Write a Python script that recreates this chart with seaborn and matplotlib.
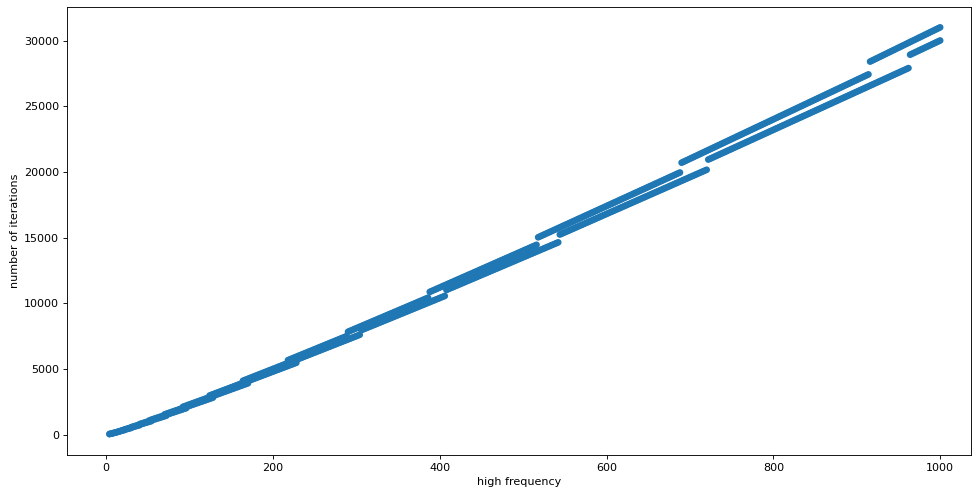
import numpy as np
import pandas as pd
import matplotlib
matplotlib.use("Agg")
import matplotlib.pyplot as plt
import seaborn as sns

# high-frequency values sampled along the axis (every 2 units)
freq = np.arange(4, 1001, 2)

# upper branch (number of iterations)
iters_upper = [
    48, 78, 112, 150, 180, 224, 256, 306, 340, 396, 432, 468, 504,
    570, 608, 646, 684, 722,
    800, 840, 880, 920, 960, 1000,
    1092, 1134, 1176, 1218, 1260, 1302, 1344, 1386, 1428,
    1540, 1584, 1628, 1672, 1716, 1760, 1804, 1848, 1892, 1936, 1980,
    2116, 2162, 2208, 2254, 2300, 2346, 2392, 2438, 2484, 2530, 2576, 2622, 2668, 2714, 2760, 2806,
    2976, 3024, 3072, 3120, 3168, 3216, 3264, 3312, 3360, 3408, 3456, 3504, 3552, 3600, 3648, 3696, 3744, 3792, 3840, 3888,
    4100, 4150, 4200, 4250, 4300, 4350, 4400, 4450, 4500, 4550, 4600, 4650, 4700, 4750, 4800, 4850, 4900, 4950, 5000,
    5050, 5100, 5150, 5200, 5250, 5300, 5350, 5400,
    5668, 5720, 5772, 5824, 5876, 5928, 5980, 6032, 6084, 6136, 6188, 6240, 6292, 6344, 6396, 6448, 6500, 6552,
    6604, 6656, 6708, 6760, 6812, 6864, 6916, 6968, 7020, 7072, 7124, 7176, 7228, 7280, 7332, 7384, 7436, 7488,
    7830, 7884, 7938, 7992, 8046, 8100, 8154, 8208, 8262, 8316, 8370, 8424, 8478, 8532, 8586, 8640, 8694, 8748,
    8802, 8856, 8910, 8964, 9018, 9072, 9126, 9180, 9234, 9288, 9342, 9396, 9450, 9504, 9558, 9612, 9666, 9720,
    9774, 9828, 9882, 9936, 9990, 10044, 10098, 10152, 10206, 10260, 10314, 10368, 10422,
    10864, 10920, 10976, 11032, 11088, 11144, 11200, 11256, 11312, 11368, 11424, 11480, 11536, 11592, 11648,
    11704, 11760, 11816, 11872, 11928, 11984, 12040, 12096, 12152, 12208, 12264, 12320, 12376, 12432, 12488,
    12544, 12600, 12656, 12712, 12768, 12824, 12880, 12936, 12992, 13048, 13104, 13160, 13216, 13272, 13328,
    13384, 13440, 13496, 13552, 13608, 13664, 13720, 13776, 13832, 13888, 13944, 14000, 14056, 14112, 14168,
    14224, 14280, 14336, 14392, 14448,
    15022, 15080, 15138, 15196, 15254, 15312, 15370, 15428, 15486, 15544,
    15602, 15660, 15718, 15776, 15834, 15892, 15950, 16008, 16066, 16124,
    16182, 16240, 16298, 16356, 16414, 16472, 16530, 16588, 16646, 16704,
    16762, 16820, 16878, 16936, 16994, 17052, 17110, 17168, 17226, 17284,
    17342, 17400, 17458, 17516, 17574, 17632, 17690, 17748, 17806, 17864,
    17922, 17980, 18038, 18096, 18154, 18212, 18270, 18328, 18386, 18444,
    18502, 18560, 18618, 18676, 18734, 18792, 18850, 18908, 18966, 19024,
    19082, 19140, 19198, 19256, 19314, 19372, 19430, 19488, 19546, 19604,
    19662, 19720, 19778, 19836, 19894, 19952,
    20700, 20760, 20820, 20880, 20940, 21000, 21060, 21120, 21180, 21240,
    21300, 21360, 21420, 21480, 21540, 21600, 21660, 21720, 21780, 21840,
    21900, 21960, 22020, 22080, 22140, 22200, 22260, 22320, 22380, 22440,
    22500, 22560, 22620, 22680, 22740, 22800, 22860, 22920, 22980, 23040,
    23100, 23160, 23220, 23280, 23340, 23400, 23460, 23520, 23580, 23640,
    23700, 23760, 23820, 23880, 23940, 24000, 24060, 24120, 24180, 24240,
    24300, 24360, 24420, 24480, 24540, 24600, 24660, 24720, 24780, 24840,
    24900, 24960, 25020, 25080, 25140, 25200, 25260, 25320, 25380, 25440,
    25500, 25560, 25620, 25680, 25740, 25800, 25860, 25920, 25980, 26040,
    26100, 26160, 26220, 26280, 26340, 26400, 26460, 26520, 26580, 26640,
    26700, 26760, 26820, 26880, 26940, 27000, 27060, 27120, 27180, 27240,
    27300, 27360, 27420,
    28396, 28458, 28520, 28582, 28644, 28706, 28768, 28830, 28892, 28954,
    29016, 29078, 29140, 29202, 29264, 29326, 29388, 29450, 29512, 29574,
    29636, 29698, 29760, 29822, 29884, 29946, 30008, 30070, 30132, 30194,
    30256, 30318, 30380, 30442, 30504, 30566, 30628, 30690, 30752, 30814,
    30876, 30938, 31000,
]

# lower branch (number of iterations)
iters_lower = [
    44, 72, 104, 140, 168, 210, 240, 288, 320, 352,
    408, 442, 476, 510,
    576, 612, 648, 684, 720,
    798, 836, 874, 912, 950, 988, 1026,
    1120, 1160, 1200, 1240, 1280, 1320, 1360, 1400, 1440,
    1554, 1596, 1638, 1680, 1722, 1764, 1806, 1848, 1890, 1932, 1974, 2016,
    2156, 2200, 2244, 2288, 2332, 2376, 2420, 2464, 2508, 2552, 2596, 2640, 2684, 2728, 2772, 2816,
    2990, 3036, 3082, 3128, 3174, 3220, 3266, 3312, 3358, 3404, 3450, 3496, 3542, 3588, 3634, 3680,
    3726, 3772, 3818, 3864, 3910,
    4128, 4176, 4224, 4272, 4320, 4368, 4416, 4464, 4512, 4560, 4608, 4656, 4704, 4752, 4800,
    4848, 4896, 4944, 4992, 5040, 5088, 5136, 5184, 5232, 5280, 5328, 5376, 5424, 5472,
    5750, 5800, 5850, 5900, 5950, 6000, 6050, 6100, 6150, 6200,
    6250, 6300, 6350, 6400, 6450, 6500, 6550, 6600, 6650, 6700,
    6750, 6800, 6850, 6900, 6950, 7000, 7050, 7100, 7150, 7200,
    7250, 7300, 7350, 7400, 7450, 7500, 7550, 7600,
    7956, 8008, 8060, 8112, 8164, 8216, 8268, 8320, 8372, 8424,
    8476, 8528, 8580, 8632, 8684, 8736, 8788, 8840, 8892, 8944,
    8996, 9048, 9100, 9152, 9204, 9256, 9308, 9360, 9412, 9464,
    9516, 9568, 9620, 9672, 9724, 9776, 9828, 9880, 9932, 9984,
    10036, 10088, 10140, 10192, 10244, 10296, 10348, 10400, 10452, 10504,
    10556,
    11016, 11070, 11124, 11178, 11232, 11286, 11340, 11394, 11448, 11502,
    11556, 11610, 11664, 11718, 11772, 11826, 11880, 11934, 11988, 12042,
    12096, 12150, 12204, 12258, 12312, 12366, 12420, 12474, 12528, 12582,
    12636, 12690, 12744, 12798, 12852, 12906, 12960, 13014, 13068, 13122,
    13176, 13230, 13284, 13338, 13392, 13446, 13500, 13554, 13608, 13662,
    13716, 13770, 13824, 13878, 13932, 13986, 14040, 14094, 14148, 14202,
    14256, 14310, 14364, 14418, 14472, 14526, 14580, 14634,
    15232, 15288, 15344, 15400, 15456, 15512, 15568, 15624, 15680, 15736,
    15792, 15848, 15904, 15960, 16016, 16072, 16128, 16184, 16240, 16296,
    16352, 16408, 16464, 16520, 16576, 16632, 16688, 16744, 16800, 16856,
    16912, 16968, 17024, 17080, 17136, 17192, 17248, 17304, 17360, 17416,
    17472, 17528, 17584, 17640, 17696, 17752, 17808, 17864, 17920, 17976,
    18032, 18088, 18144, 18200, 18256, 18312, 18368, 18424, 18480, 18536,
    18592, 18648, 18704, 18760, 18816, 18872, 18928, 18984, 19040, 19096,
    19152, 19208, 19264, 19320, 19376, 19432, 19488, 19544, 19600, 19656,
    19712, 19768, 19824, 19880, 19936, 19992, 20048, 20104, 20160,
    20938, 20996, 21054, 21112, 21170, 21228, 21286, 21344, 21402, 21460,
    21518, 21576, 21634, 21692, 21750, 21808, 21866, 21924, 21982, 22040,
    22098, 22156, 22214, 22272, 22330, 22388, 22446, 22504, 22562, 22620,
    22678, 22736, 22794, 22852, 22910, 22968, 23026, 23084, 23142, 23200,
    23258, 23316, 23374, 23432, 23490, 23548, 23606, 23664, 23722, 23780,
    23838, 23896, 23954, 24012, 24070, 24128, 24186, 24244, 24302, 24360,
    24418, 24476, 24534, 24592, 24650, 24708, 24766, 24824, 24882, 24940,
    24998, 25056, 25114, 25172, 25230, 25288, 25346, 25404, 25462, 25520,
    25578, 25636, 25694, 25752, 25810, 25868, 25926, 25984, 26042, 26100,
    26158, 26216, 26274, 26332, 26390, 26448, 26506, 26564, 26622, 26680,
    26738, 26796, 26854, 26912, 26970, 27028, 27086, 27144, 27202, 27260,
    27318, 27376, 27434, 27492, 27550, 27608, 27666, 27724, 27782, 27840,
    27898,
    28920, 28980, 29040, 29100, 29160, 29220, 29280, 29340, 29400, 29460,
    29520, 29580, 29640, 29700, 29760, 29820, 29880, 29940, 30000,
]

n = len(freq)
df = pd.DataFrame({
    "high frequency": np.concatenate([freq, freq]),
    "number of iterations": np.concatenate([iters_upper, iters_lower]),
    "order": np.concatenate([np.arange(n) * 2, np.arange(n) * 2 + 1]),
}).sort_values("order")

DPI = 80
fig = plt.figure(figsize=(973 / DPI, 492 / DPI), dpi=DPI)
ax = fig.add_axes([67 / 973, 1 - 455 / 492, (971 - 67) / 973, (455 - 7) / 492])

blue = "#1f77b4"
sns.scatterplot(data=df, x="high frequency", y="number of iterations",
                color=blue, s=36, edgecolor="none", linewidth=0, ax=ax, legend=False)

ax.set_xlim(-47, 1037)
ax.set_ylim(-1550, 32550)
ax.set_xticks([0, 200, 400, 600, 800, 1000])
ax.set_yticks([0, 5000, 10000, 15000, 20000, 25000, 30000])
ax.set_xlabel("high frequency")
ax.set_ylabel("number of iterations")

fig.savefig("out.png", dpi=DPI)
